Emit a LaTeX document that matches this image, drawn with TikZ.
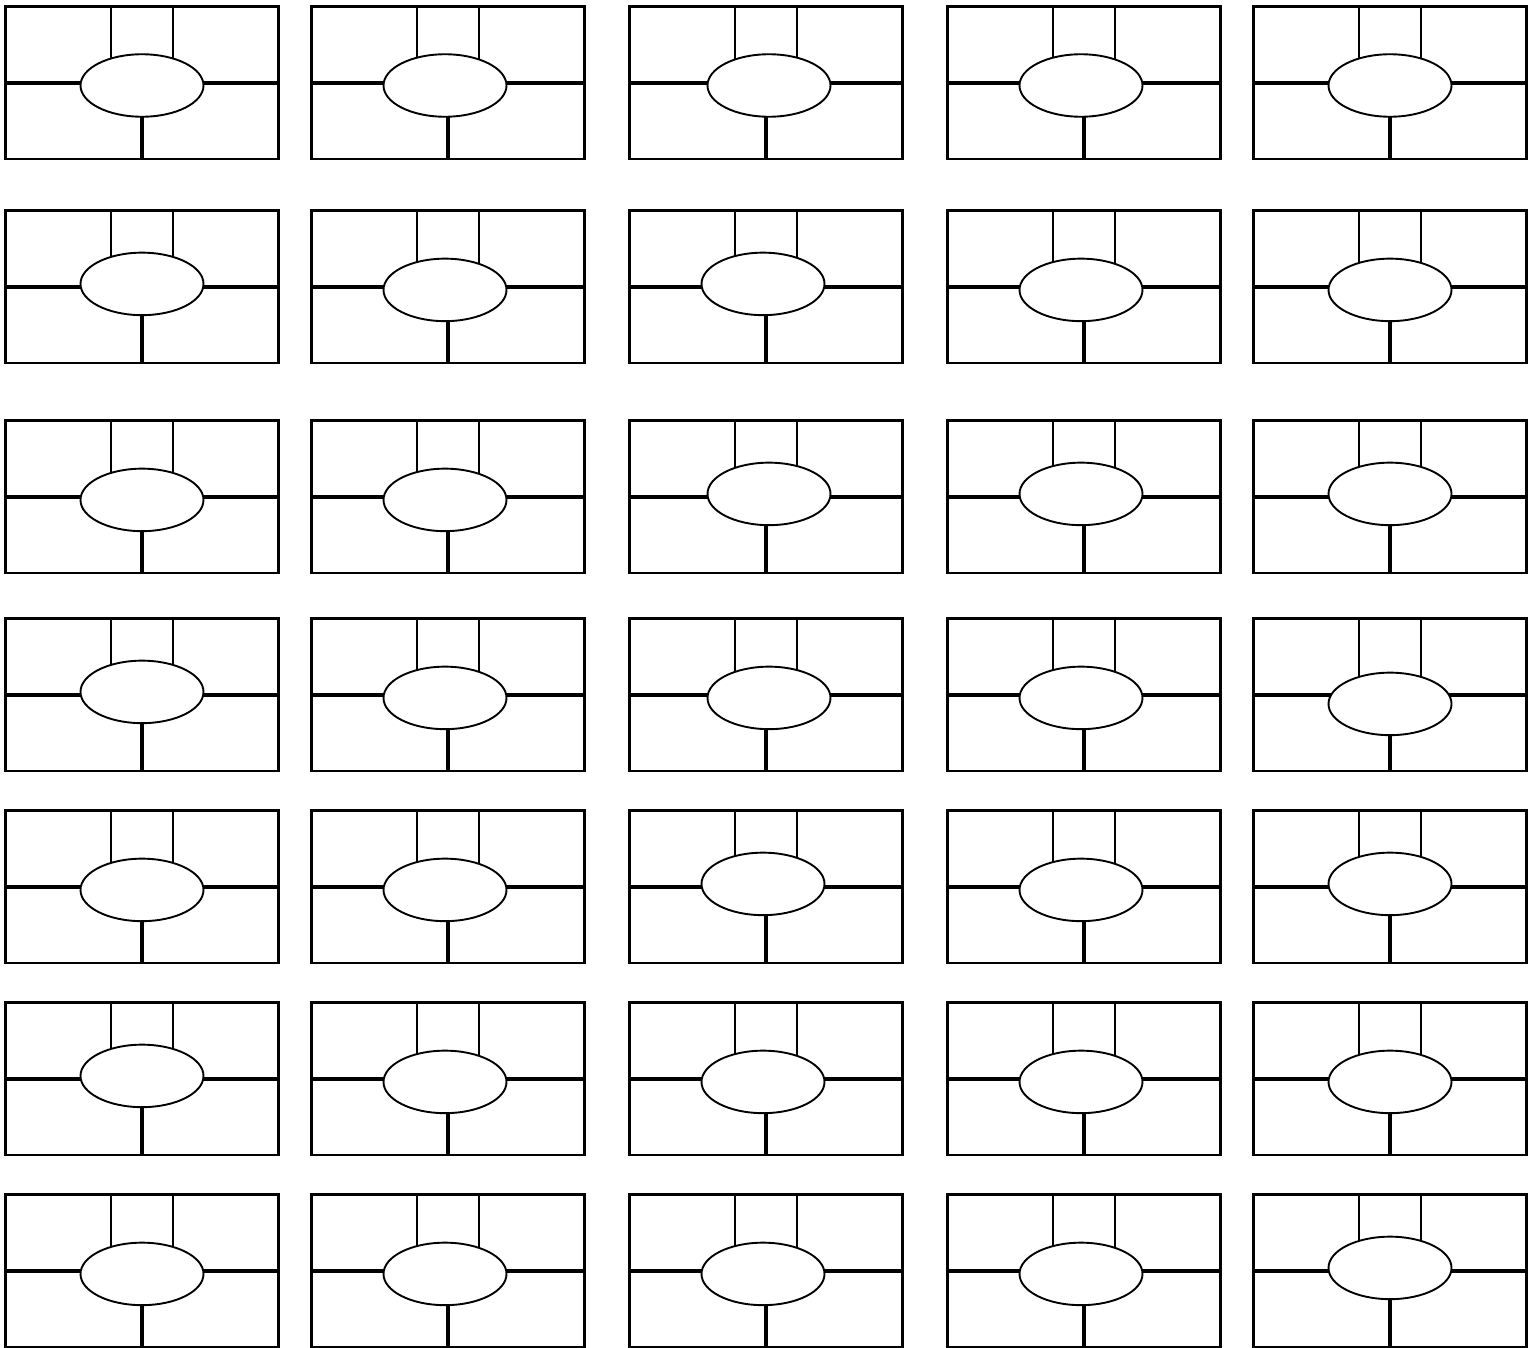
\documentclass[tikz,border=0pt]{standalone}
\usetikzlibrary{shapes.geometric,backgrounds}
\begin{document}
\begin{tikzpicture}[x=1pt,y=-1pt,
  cellbox/.style={draw, rectangle, line width=2.1pt, minimum width=273pt, minimum height=152.5pt, inner sep=0pt, outer sep=0pt, anchor=north west},
  hub/.style={draw, ellipse, line width=1.9pt, fill=white, minimum width=123pt, minimum height=62.5pt, inner sep=0pt, outer sep=0pt},
  thinline/.style={line width=1.4pt},
  thickline/.style={line width=3.6pt},
  stemline/.style={line width=3.2pt}]
\useasboundingbox (0,0) rectangle (1538,1348);
\foreach \r/\T/\ya/\yb/\yc/\yd/\ye/\xc in {
  1/6.5/85.5/85.5/85.5/85.5/85.5/769,
  2/210.5/283.9/289.9/283.9/289.9/289.9/763,
  3/420.5/499.9/499.9/493.9/493.9/493.9/769,
  4/618.5/691.9/697.9/697.9/697.9/703.9/769,
  5/810.5/889.9/889.9/883.9/889.9/883.9/763,
  6/1002.5/1075.9/1081.9/1081.9/1081.9/1081.9/763,
  7/1194.5/1273.9/1273.9/1273.9/1273.9/1267.9/763}{
  \foreach \c/\L/\X/\Y in {1/5.5/142/\ya, 2/311.5/445/\yb, 3/629.5/\xc/\yc, 4/947.5/1081/\yd, 5/1253.5/1390/\ye}{
    \node[cellbox] (b-\r-\c) at (\L,\T) {};
    \node[hub] (e-\r-\c) at (\X,\Y) {};
    \coordinate (h-\r-\c) at (\L,\T+76.5);
    \coordinate (tl-\r-\c) at ([xshift=-31pt]b-\r-\c.north);
    \coordinate (tr-\r-\c) at ([xshift=31pt]b-\r-\c.north);
    \begin{pgfonlayer}{background}
      \draw[thickline] (h-\r-\c) -- (e-\r-\c.center |- h-\r-\c) -- (b-\r-\c.east |- h-\r-\c);
      \draw[thinline] (tl-\r-\c) -- (tl-\r-\c |- e-\r-\c.center);
      \draw[thinline] (tr-\r-\c) -- (tr-\r-\c |- e-\r-\c.center);
      \draw[stemline] (b-\r-\c.south) -- (b-\r-\c.south |- e-\r-\c.center);
    \end{pgfonlayer}
  }
}
\end{tikzpicture}
\end{document}
